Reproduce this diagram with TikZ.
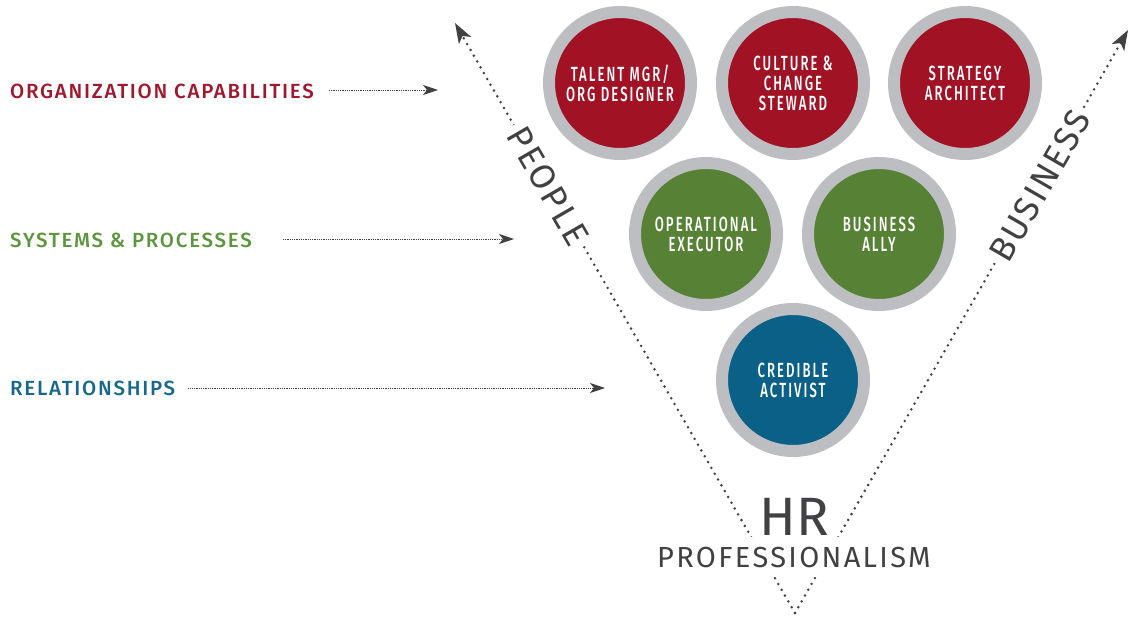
\documentclass[tikz,border=0pt]{standalone}
\usepackage{fontspec}
\usetikzlibrary{arrows.meta}
\setmainfont{Fira Sans}
\newfontfamily\labfont{Fira Sans Medium}[LetterSpace=8.5]
\newfontfamily\circfont{Fira Sans Medium}[LetterSpace=10, FakeStretch=0.64]
\newfontfamily\axisfont{Fira Sans}[LetterSpace=6]
\newfontfamily\hrfont{Fira Sans}[LetterSpace=8]

\definecolor{rolered}{HTML}{A11225}
\definecolor{rolegreen}{HTML}{578236}
\definecolor{roleblue}{HTML}{0B6088}
\definecolor{labred}{HTML}{A3172E}
\definecolor{labgreen}{HTML}{5E9640}
\definecolor{labblue}{HTML}{16698D}
\definecolor{ring}{HTML}{BDBEC1}
\definecolor{ink}{HTML}{414042}

\tikzset{
  role/.style={circle, minimum size=142pt, inner sep=0pt, line width=12pt,
    draw=ring, fill=#1, text=white, align=center,
    font=\circfont\fontsize{20.5}{20}\selectfont},
  lab/.style={anchor=base west, inner sep=0pt, text=#1,
    font=\labfont\fontsize{20.5}{20}\selectfont},
  feed/.style={draw=ink, line width=0.9pt, dash pattern=on 0.9pt off 0.9pt,
    -{Stealth[length=15pt,width=10pt,inset=4pt]}},
  axis/.style={draw=ink, line width=2.8pt, line cap=round,
    dash pattern=on 0pt off 6.7pt,
    -{Stealth[length=20pt,width=14pt,inset=5pt]}},
  axislabel/.style={fill=white, inner xsep=5pt, inner ysep=3pt, text=ink,
    font=\axisfont\fontsize{35}{35}\selectfont},
}

\begin{document}
\begin{tikzpicture}[x=1pt, y=-1pt]
\useasboundingbox (0,0) rectangle (1130,616);

% V of the two axes, meeting below the title
\coordinate (apex) at (795,613);
\coordinate (peopletip) at (455,23);
\coordinate (businesstip) at (1128,30);
\draw[axis] (apex) -- (peopletip);
\draw[axis] (apex) -- (businesstip);

% axis names sit on the dotted lines, blanking them out
\node[axislabel, rotate=-60] (people) at (548,186) {PEOPLE};
\node[axislabel, rotate=60] (business) at (1040,186) {BUSINESS};

% title at the foot of the V
\node[fill=white, inner xsep=4pt, inner ysep=2pt, anchor=base, text=ink,
  font=\fontsize{54}{54}\selectfont] (hr) at (794,535) {HR};
\node[fill=white, inner xsep=4pt, inner ysep=10pt, anchor=base, text=ink,
  text height=20pt, text depth=0pt,
  font=\hrfont\fontsize{29}{29}\selectfont] (prof) at (794,567) {PROFESSIONALISM};

% competency roles
\node[role=rolered] (talent) at (620,83) {TALENT MGR/\\ORG DESIGNER};
\node[role=rolered] (culture) at (793,83) {CULTURE \&\\CHANGE\\STEWARD};
\node[role=rolered] (strategy) at (965,83) {STRATEGY\\ARCHITECT};
\node[role=rolegreen] (operational) at (706,234) {OPERATIONAL\\EXECUTOR};
\node[role=rolegreen] (ally) at (879,234) {BUSINESS\\ALLY};
\node[role=roleblue] (activist) at (793,380) {CREDIBLE\\ACTIVIST};

% domain labels with their pointers
\node[lab=labred] (orgcap) at (10,98) {ORGANIZATION CAPABILITIES};
\node[lab=labgreen] (sysproc) at (10,247) {SYSTEMS \& PROCESSES};
\node[lab=labblue] (relations) at (10,395) {RELATIONSHIPS};

\coordinate (orgcapend) at (438,90);
\coordinate (sysprocend) at (514,239);
\coordinate (relationsend) at (605,388);
\draw[feed] (orgcap.east |- orgcapend) ++(15,0) -- (orgcapend);
\draw[feed] (sysproc.east |- sysprocend) ++(31,0) -- (sysprocend);
\draw[feed] (relations.east |- relationsend) ++(13,0) -- (relationsend);
\end{tikzpicture}
\end{document}
